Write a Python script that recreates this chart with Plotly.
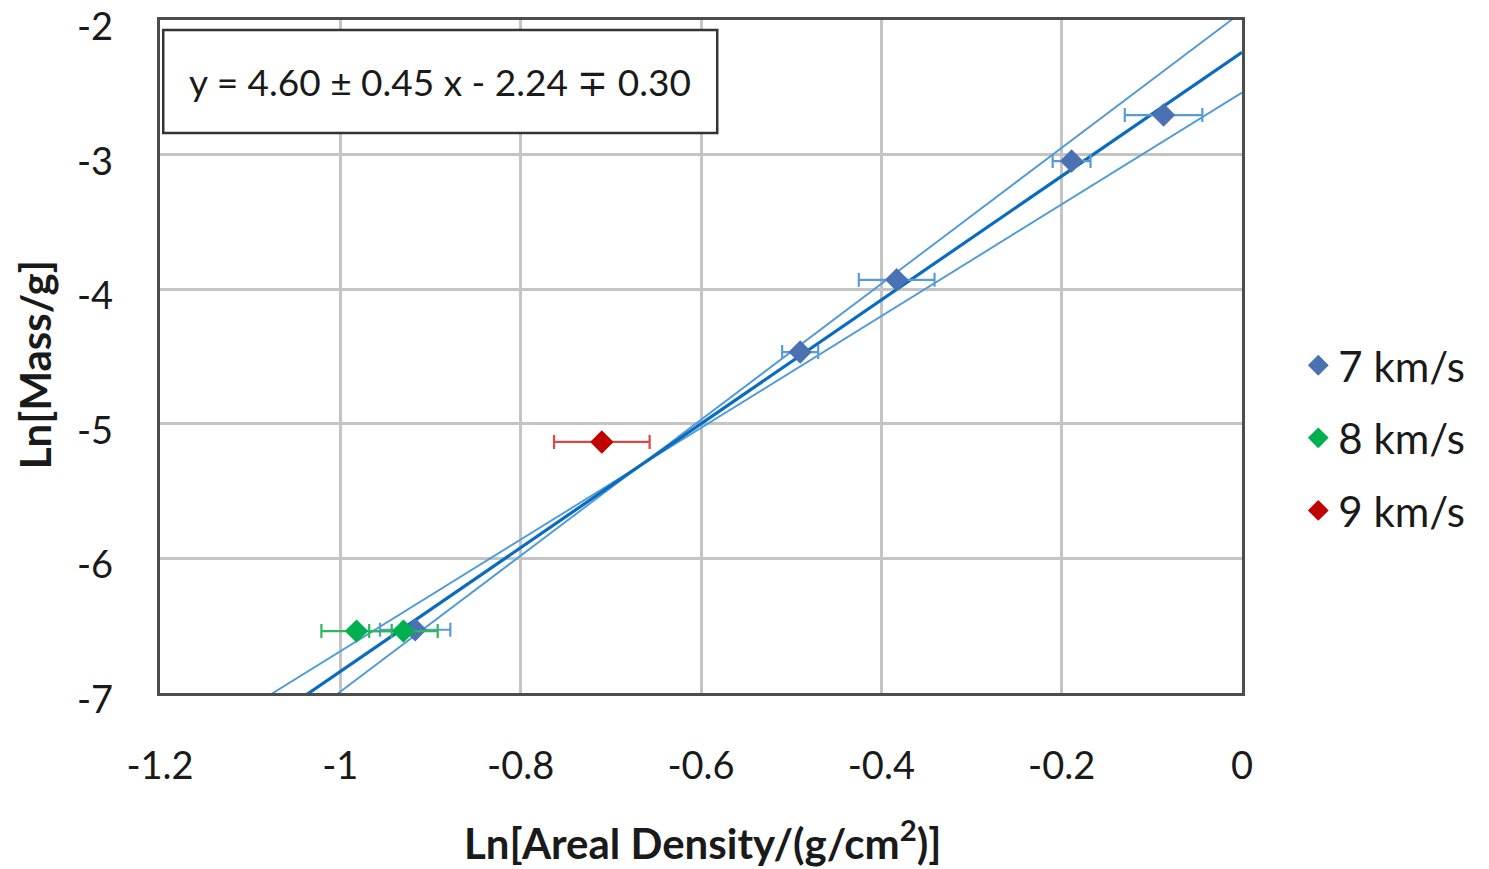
import plotly.graph_objects as go

# ---- data ----
x7 = [-0.917, -0.490, -0.383, -0.189, -0.087]
y7 = [-6.53, -4.467, -3.93, -3.048, -2.706]
xerr7 = [0.039, 0.020, 0.042, 0.021, 0.043]

x8 = [-0.982, -0.930]
y8 = [-6.54, -6.54]
xerr8 = [0.039, 0.038]

x9 = [-0.710]
y9 = [-5.135]
xerr9 = [0.053]

slope, slope_err = 4.60, 0.45
intercept, intercept_err = -2.24, 0.30

x_ticks = [-1.2, -1.0, -0.8, -0.6, -0.4, -0.2, 0]
x_ticklabels = ["-1.2", "-1", "-0.8", "-0.6", "-0.4", "-0.2", "0"]
y_ticks = [-7, -6, -5, -4, -3, -2]
y_ticklabels = ["-7", "-6", "-5", "-4", "-3", "-2"]

FONT = "Lato"
TXT = "#1a1a1a"

fig = go.Figure()

line_x = [-1.2, 0.0]
# bounding lines
for s, b in [(slope + slope_err, intercept + intercept_err),
             (slope - slope_err, intercept - intercept_err)]:
    fig.add_trace(go.Scatter(x=line_x, y=[s * v + b for v in line_x], mode="lines",
                             line=dict(color="#4f9bd9", width=1.9),
                             showlegend=False, hoverinfo="skip"))
# main fit line
fig.add_trace(go.Scatter(x=line_x, y=[slope * v + intercept for v in line_x], mode="lines",
                         line=dict(color="#0a6cc0", width=3.2),
                         showlegend=False, hoverinfo="skip"))

series = [
    ("7 km/s", x7, y7, xerr7, "#4a72b2", "#5b9bd5", "g7"),
    ("8 km/s", x8, y8, xerr8, "#00b050", "#2eb85c", "g8"),
    ("9 km/s", x9, y9, xerr9, "#c00000", "#d6494a", "g9"),
]
for name, xs, ys, xe, mc, ec, grp in series:
    fig.add_trace(go.Scatter(
        x=xs, y=ys, mode="markers", name=name, legendgroup=grp,
        marker=dict(symbol="diamond", size=18, color=mc),
        error_x=dict(type="data", array=xe, visible=True, color=ec, thickness=2.2, width=7),
    ))

# y tick labels as text annotations (slightly below their gridlines, as in the source)
ytick_annotations = [
    dict(text=lab, xref="paper", yref="y", x=0, y=val, xanchor="right", yanchor="middle",
         xshift=-45, yshift=-5, showarrow=False, font=dict(size=38, family=FONT, color=TXT))
    for val, lab in zip(y_ticks, y_ticklabels)
]

fig.update_layout(
    width=1481, height=861,
    margin=dict(l=152, r=247, t=12, b=176, autoexpand=False),
    paper_bgcolor="white", plot_bgcolor="white",
    font=dict(family=FONT, color=TXT),
    legend=dict(x=1.052, y=0.379, xanchor="left", yanchor="middle",
                font=dict(size=42, family=FONT, color=TXT),
                tracegroupgap=15, traceorder="grouped", bgcolor="rgba(0,0,0,0)",
                itemsizing="trace"),
    xaxis=dict(range=[-1.2, 0], tickvals=x_ticks, ticktext=x_ticklabels,
               showgrid=True, gridcolor="#c4c4c4", gridwidth=2.5,
               showline=True, mirror=True, linecolor="#4d4d4d", linewidth=3,
               zeroline=False, ticks="", ticklabelstandoff=37,
               ticklabeloverflow="allow", automargin=False,
               tickfont=dict(size=38, family=FONT, color=TXT)),
    yaxis=dict(range=[-7, -2], tickvals=y_ticks, showticklabels=False,
               showgrid=True, gridcolor="#c4c4c4", gridwidth=2.5,
               showline=True, mirror=True, linecolor="#4d4d4d", linewidth=3,
               zeroline=False, ticks="", automargin=False),
    shapes=[dict(type="rect", xref="paper", yref="paper",
                 x0=0.003, x1=0.515, y0=0.832, y1=0.985,
                 fillcolor="white", line=dict(color="#333333", width=2.5), layer="above")],
    annotations=ytick_annotations + [
        dict(text="y = 4.60 \u00b1 0.45 x - 2.24 \u2213 0.30", xref="paper", yref="paper",
             x=0.259, y=0.908, xanchor="center", yanchor="middle", showarrow=False,
             font=dict(size=37, family=FONT, color=TXT)),
        dict(text="<b>Ln[Areal Density/(g/cm<sup>2</sup>)]</b>", xref="paper", yref="paper",
             x=0.501, y=-0.218, xanchor="center", yanchor="middle", showarrow=False,
             font=dict(size=42, family=FONT, color=TXT)),
        dict(text="<b>Ln[Mass/g]</b>", xref="paper", yref="paper", textangle=-90,
             x=-0.1155, y=0.487, xanchor="center", yanchor="middle", showarrow=False,
             font=dict(size=42, family=FONT, color=TXT)),
    ],
)

fig.write_html("out.html")
